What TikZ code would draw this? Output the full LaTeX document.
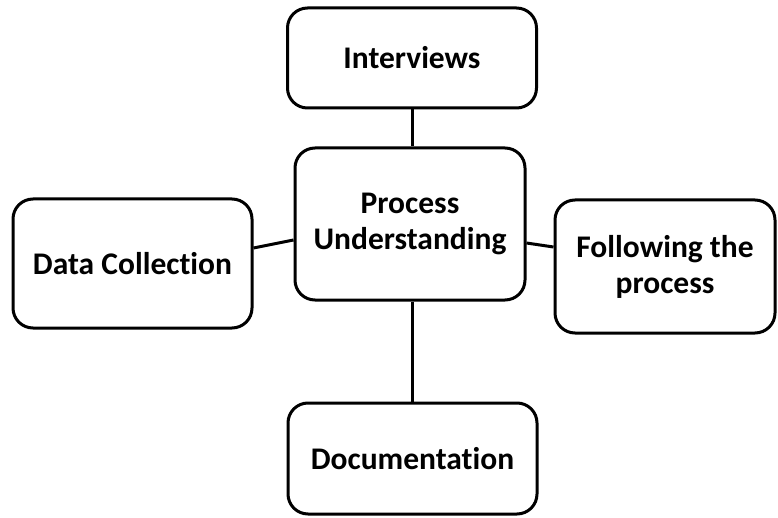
\documentclass[tikz,border=0pt]{standalone}
\usepackage{fontspec}
\setmainfont{Carlito}[Ligatures=NoCommon]
\begin{document}
\begin{tikzpicture}[x=1pt,y=-1pt,
  box/.style={draw=black, line width=3pt, rounded corners=20pt, fill=white,
    inner sep=0pt, align=center, text=black,
    font=\fontsize{31.5}{36}\selectfont\bfseries},
  link/.style={draw=black, line width=3pt}]
  \useasboundingbox[fill=white] (0,0) rectangle (778,518);

  % central topic and the four surrounding activities
  \node[box, minimum width=230pt, minimum height=152pt] (proc) at (410,224) {Process\\Understanding};
  \node[box, minimum width=249pt, minimum height=100pt] (int)  at (412,58) {Interviews};
  \node[box, minimum width=239pt, minimum height=129pt] (data) at (132.5,263.5) {Data Collection};
  \node[box, minimum width=220pt, minimum height=133pt] (foll) at (665,266.5) {Following the\\process};
  \node[box, minimum width=249pt, minimum height=111pt] (doc)  at (412.5,458.5) {Documentation};

  % connectors from the centre to each activity
  \draw[link] (int.south) -- (int.south |- proc.north);
  \draw[link] (doc.north |- proc.south) -- (doc.north);
  \draw[link] ([yshift=15.5pt]data.east) -- ([yshift=-16pt]proc.west);
  \draw[link] ([yshift=-19pt]proc.east) -- ([yshift=19.5pt]foll.west);
\end{tikzpicture}
\end{document}
